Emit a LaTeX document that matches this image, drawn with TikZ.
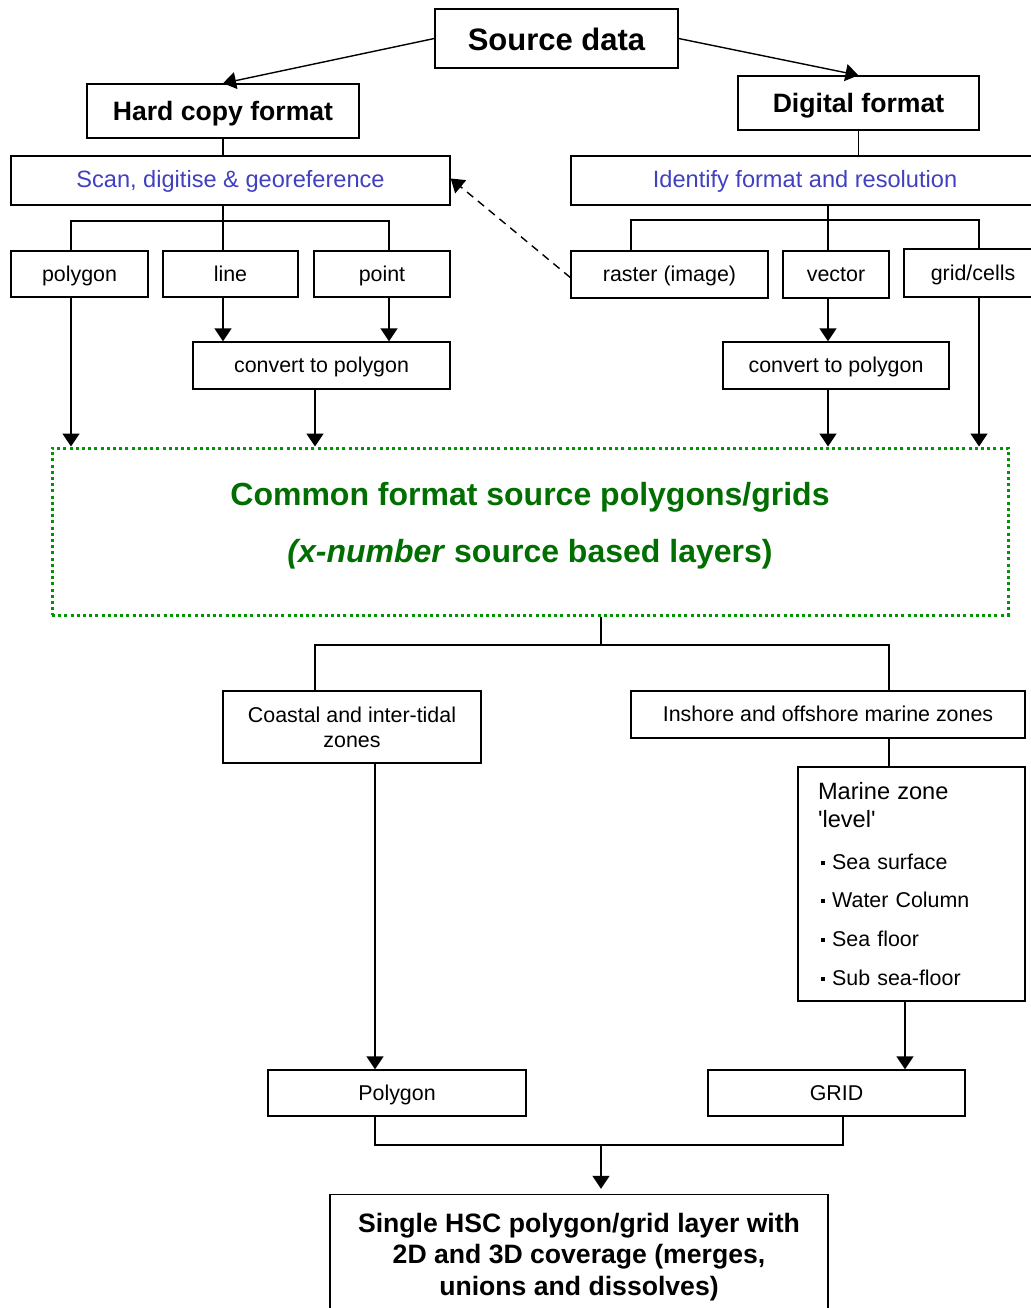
\documentclass[tikz,border=0pt]{standalone}
\usepackage{fontspec}
\setmainfont{Liberation Sans}
\usepackage{xcolor}
\usetikzlibrary{positioning, arrows.meta}
\definecolor{scanblue}{RGB}{64,64,192}
\definecolor{commongreen}{RGB}{0,110,0}
\definecolor{dotgreen}{RGB}{0,150,0}
\newcommand{\sqbul}{\hspace*{1.5pt}\rule[0.22em]{2pt}{2pt}\hspace{3.6pt}}

\begin{document}
\begin{tikzpicture}[
        x=0.5pt, y=-0.5pt,
        every node/.style={
                draw, line width=0.7pt, inner sep=0pt,
                align=center,
                font=\fontsize{10.7}{12.5}\selectfont
            },
        oneline/.style={text height=8.5pt, text depth=1.3pt},
        headbox/.style={font=\fontsize{13.3}{15.7}\selectfont\bfseries},
        headline/.style={headbox, text height=11pt, text depth=1.8pt},
        bluebox/.style={oneline, text=scanblue, font=\fontsize{11.8}{14}\selectfont},
        wire/.style={line width=0.7pt},
        arr/.style={wire, -{Triangle[length=6.5pt,width=8.5pt]}}
    ]
    \useasboundingbox (0,0) rectangle (1030,1308);

    % top of the tree
    \node (src) [headline, font=\fontsize{15.5}{18}\selectfont\bfseries, text height=14pt,
        minimum width=121.5pt, minimum height=29.5pt] at (556.5,38.5) {Source data};
    \node (hard) [headline, minimum width=136pt, minimum height=27pt] at (223,111) {Hard copy format};
    \node (dig) [headline, minimum width=120.5pt, minimum height=27pt] at (858.5,103) {Digital format};

    % hard copy branch
    \node (scan) [bluebox, minimum width=219.5pt, minimum height=24.5pt] at (230.5,180.5) {Scan, digitise \& georeference};
    \node (poly) [oneline, minimum width=68.5pt, minimum height=23pt] at (79.5,274) {polygon};
    \node (line) [oneline, minimum width=67.5pt, minimum height=23pt] at (230.5,274) {line};
    \node (point) [oneline, minimum width=68pt, minimum height=23pt] at (382,274) {point};
    \node (conv1) [oneline, minimum width=128.5pt, minimum height=23.5pt] at (321.5,365.5) {convert to polygon};

    % digital branch
    \node (idf) [bluebox, minimum width=234pt, minimum height=24.5pt] at (805,180.5) {Identify format and resolution};
    \node (raster) [oneline, minimum width=98.5pt, minimum height=23.5pt] at (669.5,274.5) {raster (image)};
    \node (vec) [oneline, minimum width=53pt, minimum height=23.5pt] at (836,274.5) {vector};
    \node (grid) [oneline, minimum width=69pt, minimum height=24pt] at (973,273) {grid/cells};
    \node (conv2) [oneline, minimum width=113pt, minimum height=23.5pt] at (836,365.5) {convert to polygon};

    \node (common) [draw=dotgreen, line width=1.5pt, dash pattern=on 1.5pt off 1.6pt,
        text=commongreen, font=\fontsize{16}{28.5}\selectfont\bfseries, text depth=9.5pt,
        minimum width=478pt, minimum height=83.5pt] at (530,531.5)
        {Common format source polygons/grids\\\textit{(x-number} source based layers)};

    % zones
    \node (coast) [minimum width=129pt, minimum height=36pt] at (352,727) {Coastal and inter-tidal\\zones};
    \node (insh) [oneline, minimum width=197pt, minimum height=23.5pt] at (828,714.5) {Inshore and offshore marine zones};
    \node (marine) [minimum width=113.5pt, minimum height=117pt, text width=93.5pt, align=left,
        font=\fontsize{10.7}{14}\selectfont] at (911.5,884)
        {{\fontsize{11.8}{14}\selectfont Marine zone}\\
         {\fontsize{11.8}{14}\selectfont\textquotesingle level\textquotesingle}\\[7pt]
         \sqbul Sea surface\\[5pt]
         \sqbul Water Column\\[5.5pt]
         \sqbul Sea floor\\[5.5pt]
         \sqbul Sub sea-floor};
    \node (polyb) [oneline, minimum width=129pt, minimum height=23pt] at (397,1093) {Polygon};
    \node (gridb) [oneline, minimum width=128.5pt, minimum height=23pt] at (836.5,1093) {GRID};
    \node (final) [headbox, minimum width=249pt, minimum height=62.5pt] at (579,1257)
        {Single HSC polygon/grid layer with\\2D and 3D coverage (merges,\\unions and dissolves)};

    % junction points
    \coordinate (sb) at (223,221);
    \coordinate (sbl) at (71,221);
    \coordinate (sbr) at (389,221);
    \coordinate (c1) at (315,400);
    \coordinate (ib) at (828,220);
    \coordinate (ibl) at (631,220);
    \coordinate (ibr) at (979,220);
    \coordinate (cb) at (601,645);
    \coordinate (cbl) at (315,645);
    \coordinate (cbr) at (889,645);
    \coordinate (cl) at (375,900);
    \coordinate (ml) at (905,1030);
    \coordinate (bb) at (601,1145);
    \coordinate (bbl) at (375,1145);
    \coordinate (bbr) at (843,1145);

    \draw[arr] (src.west) -- (hard.north);
    \draw[arr] (src.east) -- (dig.north);
    \draw[wire] (hard.south) -- (hard.south |- scan.north);
    \draw[wire] (dig.south) -- (dig.south |- idf.north);

    \draw[wire] (sb |- scan.south) -- (sb |- line.north);
    \draw[wire] (sbl |- poly.north) -- (sbl) -- (sbr) -- (sbr |- point.north);
    \draw[arr] (sbl |- poly.south) -- (sbl |- common.north);
    \draw[arr] (sb |- line.south) -- (sb |- conv1.north);
    \draw[arr] (sbr |- point.south) -- (sbr |- conv1.north);
    \draw[arr] (c1 |- conv1.south) -- (c1 |- common.north);

    \draw[wire] (ib |- idf.south) -- (ib |- vec.north);
    \draw[wire] (ibl |- raster.north) -- (ibl) -- (ibr) -- (ibr |- grid.north);
    \draw[arr] (ib |- vec.south) -- (ib |- conv2.north);
    \draw[arr] (ib |- conv2.south) -- (ib |- common.north);
    \draw[arr] (ibr |- grid.south) -- (ibr |- common.north);
    \draw[arr, dash pattern=on 4pt off 3pt] ([yshift=-1.5pt]raster.west) -- ([yshift=1pt]scan.east);

    \draw[wire] (cb |- common.south) -- (cb);
    \draw[wire] (cbl |- coast.north) -- (cbl) -- (cbr) -- (cbr |- insh.north);
    \draw[wire] (cbr |- insh.south) -- (cbr |- marine.north);
    \draw[arr] (cl |- coast.south) -- (cl |- polyb.north);
    \draw[arr] (ml |- marine.south) -- (ml |- gridb.north);
    \draw[wire] (bbl |- polyb.south) -- (bbl) -- (bbr) -- (bbr |- gridb.south);
    \draw[arr] (bb) -- ([yshift=2.5pt]bb |- final.north);
\end{tikzpicture}
\end{document}
